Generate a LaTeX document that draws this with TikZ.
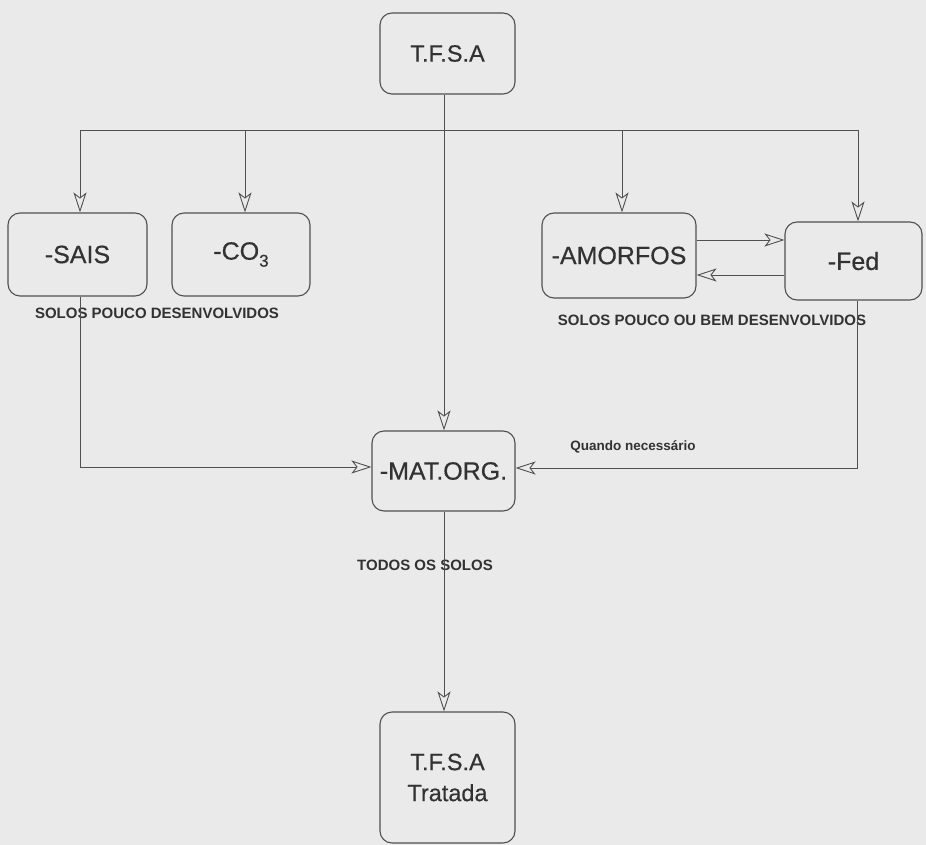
\documentclass[tikz,border=0pt]{standalone}
\usepackage{fontspec}
\setmainfont{Liberation Sans}
\newfontfamily\boxfont[FakeBold=0.5]{Liberation Sans}
\usetikzlibrary{arrows.meta,calc}
\definecolor{paper}{RGB}{234,234,234}
\definecolor{ink}{RGB}{50,50,50}
\definecolor{wire}{RGB}{80,80,80}
\begin{document}
\begin{tikzpicture}[x=1pt,y=-1pt,
  box/.style={draw=wire,line width=1.1pt,rounded corners=12pt,fill=paper,text=ink,inner sep=0pt,align=center},
  bigtxt/.style={font=\boxfont\fontsize{25}{29}\selectfont},
  midtxt/.style={font=\boxfont\fontsize{23.5}{31}\selectfont},
  lbl/.style={text=ink,inner sep=0pt,font=\bfseries\fontsize{15}{18}\selectfont},
  wirel/.style={draw=wire,line width=0.9pt},
  arr/.style={wirel,-{Stealth[open,length=20pt,width=13pt,inset=5pt,fill=paper]}}
]
\fill[paper] (0,0) rectangle (926,845);
\useasboundingbox (0,0) rectangle (926,845);

% boxes
\node[box,midtxt,minimum width=135pt,minimum height=81pt] (top) at (447.5,53.5) {T.F.S.A};
\node[box,bigtxt,minimum width=139pt,minimum height=83pt] (sais) at (77.5,254.5) {-SAIS};
\node[box,bigtxt,minimum width=138pt,minimum height=83pt] (co3) at (241,254.5) {-CO\raisebox{-7pt}{\fontsize{17}{17}\selectfont 3}};
\node[box,bigtxt,minimum width=154pt,minimum height=85pt] (amor) at (619,255.5) {-AMORFOS};
\node[box,bigtxt,minimum width=137pt,minimum height=78pt] (fed) at (853.5,261) {-Fed};
\node[box,bigtxt,minimum width=143pt,minimum height=80pt] (mat) at (443.5,471) {-MAT.ORG.};
\node[box,midtxt,minimum width=135pt,minimum height=131pt] (trat) at (447.5,777.5) {T.F.S.A\\Tratada};

% labels
\node[lbl] (l1) at (157,313) {SOLOS POUCO DESENVOLVIDOS};
\node[lbl] (l2) at (712,320) {SOLOS POUCO OU BEM DESENVOLVIDOS};
\node[lbl,font=\bfseries\fontsize{13.5}{16}\selectfont] (l3) at (633,447) {Quando necessário};
\node[lbl] (l4) at (425,565) {TODOS OS SOLOS};

% distribution bar
\coordinate (jA) at (80,130);
\coordinate (jB) at (245,130);
\coordinate (jC) at (444,130);
\coordinate (jD) at (622,130);
\coordinate (jE) at (858,130);
\draw[wirel] (jA) -- (jE);
\draw[wirel] (jC |- top.south) -- (jC);
\draw[arr] (jA) -- (jA |- sais.north);
\draw[arr] (jB) -- (jB |- co3.north);
\draw[arr] (jD) -- (jD |- amor.north);
\draw[arr] (jE) -- (jE |- fed.north);
\draw[arr] (jC) -- (jC |- mat.north);

% amorfos <-> fed
\draw[arr] (amor.east |- 0,240) -- (fed.west |- 0,240);
\draw[arr] (fed.west |- 0,275) -- (amor.east |- 0,275);

% to mat.org
\coordinate (cL) at (80,467);
\coordinate (cR) at (857,468);
\draw[arr] (cL |- sais.south) -- (cL) -- (mat.west |- cL);
\draw[arr] (cR |- fed.south) -- (cR) -- (mat.east |- cR);

% to treated
\draw[arr] (mat.south -| jC) -- (trat.north -| jC);
\end{tikzpicture}
\end{document}
